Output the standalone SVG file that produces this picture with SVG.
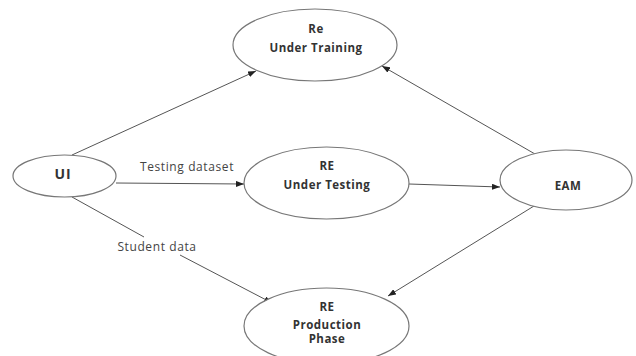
<svg xmlns="http://www.w3.org/2000/svg" width="636" height="356" viewBox="0 0 636 356">
<style>
.node ellipse{fill:#fff;stroke:#777;stroke-width:1.2}
.t{font-family:"Open Sans","Liberation Sans",sans-serif;font-weight:bold;font-size:11.5px;letter-spacing:0.5px;fill:#333;text-anchor:middle;dominant-baseline:central}
.lbl{font-family:"Open Sans","Liberation Sans",sans-serif;font-size:12px;letter-spacing:0.6px;fill:#444;text-anchor:middle;dominant-baseline:central}
.edges line{stroke:#555;stroke-width:1}
</style>
<defs>
<marker id="ah" viewBox="0 0 8 6" refX="8" refY="3" markerWidth="8" markerHeight="6" markerUnits="userSpaceOnUse" orient="auto">
<path d="M0,0 L8,3 L0,6 Z" fill="#222"/>
</marker>
</defs>
<rect width="636" height="356" fill="#fff"/>
<g class="edges">
<line x1="72" y1="155" x2="256" y2="71" marker-end="url(#ah)"/>
<line x1="116" y1="183" x2="244" y2="184" marker-end="url(#ah)"/>
<line x1="72" y1="197" x2="144" y2="237"/>
<line x1="180" y1="255" x2="272" y2="303" marker-end="url(#ah)"/>
<line x1="409" y1="184" x2="500" y2="187" marker-end="url(#ah)"/>
<line x1="535" y1="154" x2="382" y2="66" marker-end="url(#ah)"/>
<line x1="534" y1="206" x2="388" y2="296" marker-end="url(#ah)"/>
</g>
<g id="node-training" class="node">
<ellipse cx="315" cy="45" rx="82" ry="36"/>
<text class="t" x="316" y="28">Re</text>
<text class="t" x="316" y="47">Under Training</text>
</g>
<g id="node-ui" class="node">
<ellipse cx="64.5" cy="176" rx="51.5" ry="21"/>
<text class="t" x="63" y="173" style="font-size:14px;letter-spacing:1px">UI</text>
</g>
<g id="node-testing" class="node">
<ellipse cx="326.5" cy="183" rx="82.5" ry="36"/>
<text class="t" x="327" y="165">RE</text>
<text class="t" x="327" y="184">Under Testing</text>
</g>
<g id="node-eam" class="node">
<ellipse cx="566" cy="180" rx="66" ry="30"/>
<text class="t" x="568" y="185">EAM</text>
</g>
<g id="node-production" class="node">
<ellipse cx="326.5" cy="326" rx="82.5" ry="38"/>
<text class="t" x="327" y="306">RE</text>
<text class="t" x="327" y="324">Production</text>
<text class="t" x="327" y="338">Phase</text>
</g>
<text class="lbl" x="187" y="166">Testing dataset</text>
<text class="lbl" x="157" y="246">Student data</text>
</svg>
